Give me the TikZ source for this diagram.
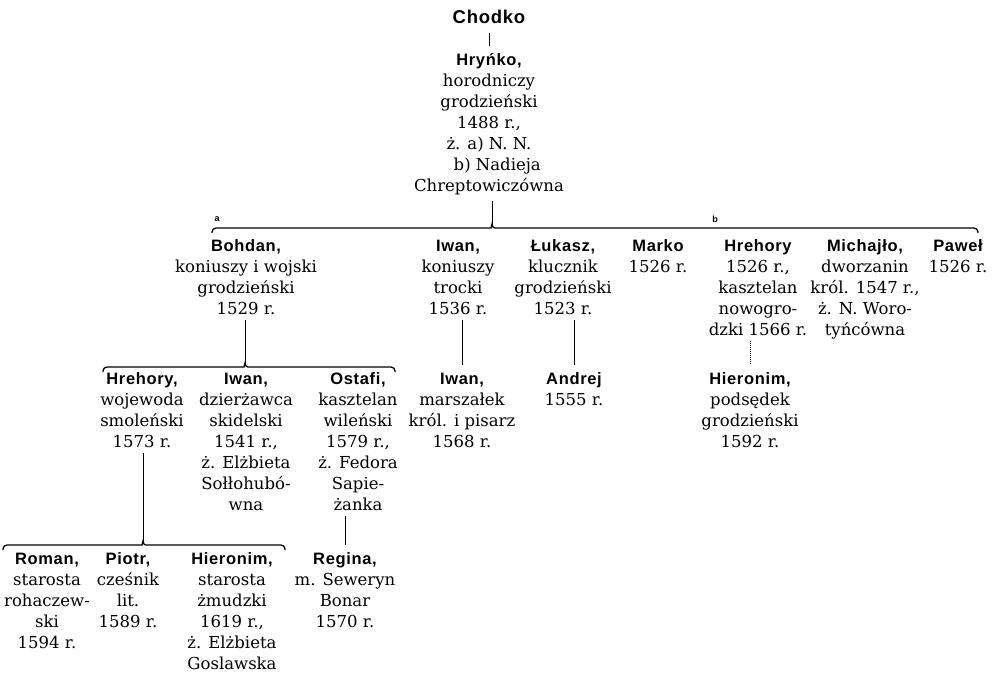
\documentclass[tikz,border=0pt]{standalone}
\usepackage{fontspec}
\setmainfont{DejaVu Serif}
\newfontfamily\namefont{Liberation Sans}[LetterSpace=4]
\usetikzlibrary{calc}
\newcommand\pname[1]{{\namefont\bfseries\fontsize{16.5}{21}\selectfont\strut#1}}

\begin{document}
\begin{tikzpicture}[x=1pt, y=-1pt,
  person/.style={anchor=north, align=center, inner xsep=0pt, inner ysep=5pt,
    font=\fontsize{16.5}{21}\selectfont},
  kin/.style={line width=1pt},
  brace/.style={line width=1.3pt},
  motherlbl/.style={inner sep=0pt, font=\namefont\bfseries\fontsize{9}{10}\selectfont}]
  \fill[white] (0,0) rectangle (995,676);
  \useasboundingbox (0,0) rectangle (995,676);

  % founder
  \node[inner xsep=0pt, inner ysep=9pt, font=\namefont\bfseries\fontsize{18.5}{22}\selectfont] (chodko) at (489,17) {Chodko};
  \node[person] (hrynko) at (489,46) {\pname{Hryńko,}\\horodniczy\\grodzieński\\1488 r.,\\ż. a) N. N.\\\hspace*{1em}b) Nadieja\\Chreptowiczówna};
  \draw[kin] (chodko) -- (hrynko);

  % sons of Hryńko
  \coordinate (hub1) at (492,224);
  \coordinate (b1l) at (212,228);
  \coordinate (b1r) at (978,228);
  \draw[kin] (hrynko.south -| hub1) -- (hub1);
  \draw[brace] ($(b1l)+(0,5)$) [rounded corners=4pt] |- ($(hub1)+(-5,4)$) [sharp corners]
    .. controls ($(hub1)+(-1,4)$) .. (hub1) .. controls ($(hub1)+(1,4)$) .. ($(hub1)+(5,4)$)
    [rounded corners=4pt] -| ($(b1r)+(0,5)$);
  \node[motherlbl] (marka) at (217,219) {a};
  \node[motherlbl] (markb) at (715,219) {b};

  \node[person] (bohdan) at (246,232) {\pname{Bohdan,}\\koniuszy i wojski\\grodzieński\\1529 r.};
  \node[person] (iwan) at (458,232) {\pname{Iwan,}\\koniuszy\\trocki\\1536 r.};
  \node[person] (lukasz) at (563,232) {\pname{Łukasz,}\\klucznik\\grodzieński\\1523 r.};
  \node[person] (marko) at (658,232) {\pname{Marko}\\1526 r.};
  \node[person] (hrehory) at (758,232) {\pname{Hrehory}\\1526 r.,\\kasztelan\\nowogro-\\dzki 1566 r.};
  \node[person] (michajlo) at (865,232) {\pname{Michajło,}\\dworzanin\\król. 1547 r.,\\ż. N. Woro-\\tyńcówna};
  \node[person] (pawel) at (958,232) {\pname{Paweł}\\1526 r.};

  % sons of Bohdan
  \coordinate (hub2) at (245,363);
  \coordinate (b2l) at (103,367);
  \coordinate (b2r) at (395,367);
  \draw[kin] (bohdan.south -| hub2) -- (hub2);
  \draw[brace] ($(b2l)+(0,5)$) [rounded corners=4pt] |- ($(hub2)+(-5,4)$) [sharp corners]
    .. controls ($(hub2)+(-1,4)$) .. (hub2) .. controls ($(hub2)+(1,4)$) .. ($(hub2)+(5,4)$)
    [rounded corners=4pt] -| ($(b2r)+(0,5)$);

  \node[person] (hrehory2) at (142,365) {\pname{Hrehory,}\\wojewoda\\smoleński\\1573 r.};
  \node[person] (iwan3) at (246,365) {\pname{Iwan,}\\dzierżawca\\skidelski\\1541 r.,\\ż. Elżbieta\\Sołłohubó-\\wna};
  \node[person] (ostafi) at (358,365) {\pname{Ostafi,}\\kasztelan\\wileński\\1579 r.,\\ż. Fedora\\Sapie-\\żanka};

  % other lines
  \node[person] (iwan2) at (462,365) {\pname{Iwan,}\\marszałek\\król. i pisarz\\1568 r.};
  \node[person] (andrej) at (574,365) {\pname{Andrej}\\1555 r.};
  \node[person] (hieronim) at (750,365) {\pname{Hieronim,}\\podsędek\\grodzieński\\1592 r.};
  \draw[kin] (iwan.south -| iwan2) -- (iwan2);
  \draw[kin] (lukasz.south -| andrej) -- (andrej);
  \draw[kin, densely dotted] (hrehory.south -| hieronim) -- (hieronim);

  % sons of Hrehory
  \coordinate (hub3) at (143,541);
  \coordinate (b3l) at (3,545);
  \coordinate (b3r) at (285,545);
  \draw[kin] (hrehory2.south -| hub3) -- (hub3);
  \draw[brace] ($(b3l)+(0,5)$) [rounded corners=4pt] |- ($(hub3)+(-5,4)$) [sharp corners]
    .. controls ($(hub3)+(-1,4)$) .. (hub3) .. controls ($(hub3)+(1,4)$) .. ($(hub3)+(5,4)$)
    [rounded corners=4pt] -| ($(b3r)+(0,5)$);

  \node[person] (roman) at (47,545) {\pname{Roman,}\\starosta\\rohaczew-\\ski\\1594 r.};
  \node[person] (piotr) at (128,545) {\pname{Piotr,}\\cześnik\\lit.\\1589 r.};
  \node[person] (hieronim2) at (232,545) {\pname{Hieronim,}\\starosta\\żmudzki\\1619 r.,\\ż. Elżbieta\\Goslawska};
  \node[person] (regina) at (345,545) {\pname{Regina,}\\m. Seweryn\\Bonar\\1570 r.};
  \draw[kin] (ostafi.south -| regina) -- (regina);
\end{tikzpicture}
\end{document}
